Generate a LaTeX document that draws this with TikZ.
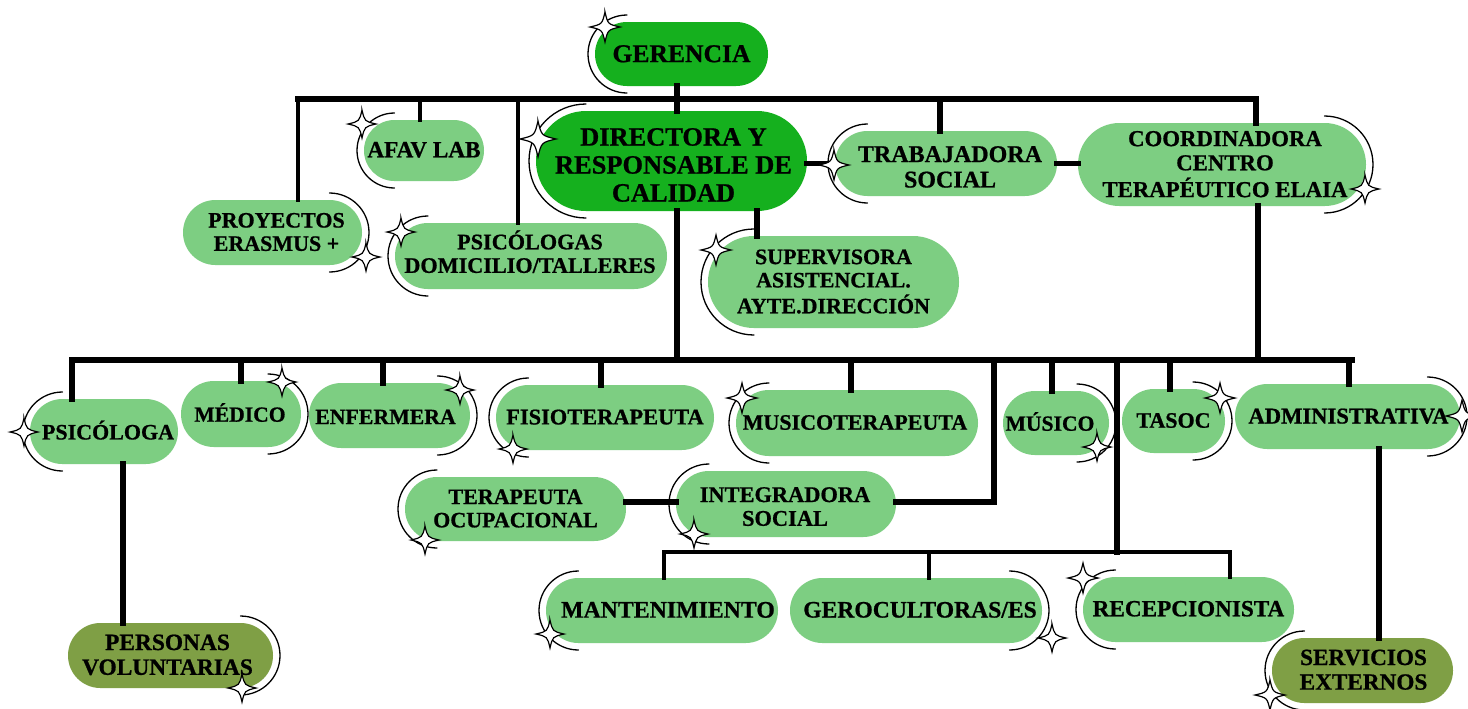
\documentclass[tikz,border=0pt]{standalone}
\usepackage{fontspec}
\setmainfont{Liberation Serif}[BoldFeatures={FakeBold=0.8}]
\usetikzlibrary{calc}
\definecolor{dark}{HTML}{15B01E}
\definecolor{light}{HTML}{7DCE82}
\definecolor{olive}{HTML}{7F9F45}
\tikzset{
  pillbase/.style={inner sep=0pt,outer sep=0pt,text=black,font=\bfseries},
  conn/.style={draw=black,line width=2.6pt,line cap=rect},
  thin conn/.style={draw=black,line width=2.1pt,line cap=rect},
  busline/.style={draw=black,line width=3pt,line cap=rect},
  arcline/.style={draw=black,line width=0.65pt,line cap=round},
  starline/.style={draw=black,fill=white,line width=0.6pt,line join=miter},
}
\newcommand\pill[9]{% name,l,t,r,b,fill,size,dx,dy in #1..#9; text follows
  \def\pname{#1}\def\pl{#2}\def\pt{#3}\def\pr{#4}\def\pb{#5}\def\pf{#6}\def\ps{#7}\def\pdx{#8}\def\pdy{#9}\pillnext}
\newcommand\pillnext[1]{%
  \pgfmathsetmacro\pcx{(\pl+\pr)/2}\pgfmathsetmacro\pcy{-(\pt+\pb)/2}%
  \pgfmathsetmacro\pw{(\pr-\pl)/2}\pgfmathsetmacro\ph{(\pb-\pt)/2}%
  \pgfmathsetmacro\prad{\ph/2-0.05}\pgfmathsetmacro\pleading{\ps*1.06}%
  \pgfmathsetmacro\pdrop{\pdy-0.34*\ps}%
  \node[pillbase,fill=\pf,minimum width=\pw pt,minimum height=\ph pt,rounded corners=\prad pt] (\pname) at (\pcx,\pcy)
   {\raisebox{\pdrop pt}[0pt][0pt]{\makebox[0pt][c]{\hspace*{\pdx pt}\fontsize{\ps}{\pleading}\selectfont\begin{tabular}[c]{@{}c@{}}#1\end{tabular}}}};}
\newcommand\arcL[1]{\draw[arcline] let \p1=(#1.north),\p2=(#1.south),\p3=(#1.west),\n1={(\y1-\y2)/2} in
  (\x3+\n1,\y1+3.5pt) arc[start angle=90,end angle=270,radius=\n1+3.5pt];}
\newcommand\arcR[1]{\draw[arcline] let \p1=(#1.north),\p2=(#1.south),\p3=(#1.east),\n1={(\y1-\y2)/2} in
  (\x3-\n1,\y1+3.5pt) arc[start angle=90,end angle=-90,radius=\n1+3.5pt];}
\newcommand\sparkle[3]{\draw[starline,shift={(#1,-#2)},scale=#3]
  (0,1) .. controls (.19,.19) .. (1,0) .. controls (.19,-.19) .. (0,-1)
  .. controls (-.19,-.19) .. (-1,0) .. controls (-.19,.19) .. cycle;}
\begin{document}
\begin{tikzpicture}[x=0.5pt,y=0.5pt]
\useasboundingbox (0,0) rectangle (1468,-708);
\fill[white] (0,0) rectangle (1468,-708);
% --- boxes
\pill{ger}{595}{22}{768}{86}{dark}{12.8}{0}{0}{GERENCIA}
\pill{dir}{536}{111}{807}{211}{dark}{13.2}{2}{-2}{DIRECTORA Y\\RESPONSABLE DE\\CALIDAD}
\pill{afav}{364}{120}{484}{181}{light}{11.6}{0}{0}{AFAV LAB}
\pill{proy}{183}{200}{362}{265}{light}{11}{4}{0}{PROYECTOS\\ERASMUS +}
\pill{psid}{395}{223}{667}{289}{light}{11.1}{-1}{1.5}{PSICÓLOGAS\\DOMICILIO/TALLERES}
\pill{trab}{835}{131}{1057}{196}{light}{12}{4}{-2}{TRABAJADORA\\SOCIAL}
\pill{coor}{1078}{123}{1366}{206}{light}{11.4}{3}{0}{COORDINADORA\\CENTRO\\TERAPÉUTICO ELAIA}
\pill{supe}{708}{236}{959}{328}{light}{11}{0}{0}{SUPERVISORA\\ASISTENCIAL.\\AYTE.DIRECCIÓN}
\pill{psic}{30}{399}{178}{464}{light}{11}{4}{0}{PSICÓLOGA}
\pill{medi}{181}{381}{301}{447}{light}{10.8}{-1}{0}{MÉDICO}
\pill{enfe}{309}{383}{470}{448}{light}{10.9}{-4}{-1}{ENFERMERA}
\pill{fisi}{496}{385}{714}{450}{light}{11.2}{0}{0}{FISIOTERAPEUTA}
\pill{muso}{736}{390}{978}{456}{light}{11}{-2}{0}{MUSICOTERAPEUTA}
\pill{musi}{1003}{391}{1109}{455}{light}{10.8}{-6}{0}{MÚSICO}
\pill{taso}{1122}{389}{1225}{453}{light}{11}{0}{0}{TASOC}
\pill{admi}{1235}{384}{1460}{449}{light}{11.3}{1}{0}{ADMINISTRATIVA}
\pill{tera}{405}{477}{626}{541}{light}{11}{0}{0}{TERAPEUTA\\OCUPACIONAL}
\pill{inte}{676}{471}{896}{537}{light}{11.2}{-1}{-1.5}{INTEGRADORA\\SOCIAL}
\pill{mant}{546}{578}{778}{643}{light}{11.9}{6}{0}{MANTENIMIENTO}
\pill{gero}{790}{578}{1042}{643}{light}{11.8}{4}{0}{GEROCULTORAS/ES}
\pill{rece}{1083}{577}{1294}{642}{light}{11.6}{0}{0}{RECEPCIONISTA}
\pill{pers}{68}{623}{273}{688}{olive}{11.7}{-3}{0}{PERSONAS\\VOLUNTARIAS}
\pill{serv}{1272}{638}{1453}{703}{olive}{11.6}{1}{0}{SERVICIOS\\EXTERNOS}
% --- junction points
\coordinate (busA) at (298,-99);
\coordinate (busB) at (1256,-99);
\coordinate (busAafav) at (420,-99);
\coordinate (busApsid) at (518,-99);
\coordinate (busAtrab) at (940,-99);
\coordinate (busAmain) at (677,-99);
\coordinate (busC) at (72,-360);
\coordinate (busD) at (1352,-360);
\coordinate (busCmain) at (677,-360);
\coordinate (busCcoor) at (1258,-360);
\coordinate (busCmedi) at (241,-360);
\coordinate (busCenfe) at (383,-360);
\coordinate (busCfisi) at (601,-360);
\coordinate (busCmuso) at (851,-360);
\coordinate (busCmusi) at (1052,-360);
\coordinate (busCtaso) at (1170,-360);
\coordinate (busCadmi) at (1349,-360);
\coordinate (busCinte) at (994,-360);
\coordinate (busCrece) at (1117,-360);
\coordinate (elbowInte) at (994,-502);
\coordinate (elbowRece) at (1117,-552);
\coordinate (busE) at (664,-552);
\coordinate (busF) at (1230,-552);
\coordinate (busEgero) at (929,-552);
\coordinate (supeTop) at (757,-211);
\coordinate (persTop) at (123,-464);
\coordinate (servTop) at (1379,-449);
% --- connectors
\draw[busline] (busA) -- (busB);
\draw[busline] (busC) -- (busD);
\draw[thin conn] (busE) -- (busF);
\draw[busline] (ger.south -| busAmain) -- (dir.north -| busAmain);
\draw[thin conn] (busA) -- (busA |- proy.north);
\draw[thin conn] (busAafav) -- (busAafav |- afav.north);
\draw[thin conn] (busApsid) -- (busApsid |- psid.north);
\draw[conn] (busAtrab) -- (busAtrab |- trab.north);
\draw[conn] (busB) -- (busB |- coor.north);
\draw[conn] (dir.east |- trab.west) -- (trab.west);
\draw[conn] (trab.east) -- (coor.west |- trab.east);
\draw[busline] (dir.south -| busCmain) -- (busCmain);
\draw[conn] (supeTop) -- (supeTop |- supe.north);
\draw[conn] (coor.south -| busCcoor) -- (busCcoor);
\draw[busline] (busC) -- (busC |- psic.north);
\draw[conn] (busCmedi) -- (busCmedi |- medi.north);
\draw[busline] (busCenfe) -- (busCenfe |- enfe.north);
\draw[conn] (busCfisi) -- (busCfisi |- fisi.north);
\draw[busline] (busCmuso) -- (busCmuso |- muso.north);
\draw[busline] (busCmusi) -- (busCmusi |- musi.north);
\draw[busline] (busCtaso) -- (busCtaso |- taso.north);
\draw[busline] (busCadmi) -- (busCadmi |- admi.north);
\draw[conn] (busCinte) -- (elbowInte) -- (inte.east |- elbowInte);
\draw[conn] (tera.east |- elbowInte) -- (inte.west |- elbowInte);
\draw[conn] (busCrece) -- (elbowRece);
\draw[thin conn] (busE) -- (busE |- mant.north);
\draw[thin conn] (busEgero) -- (busEgero |- gero.north);
\draw[thin conn] (busF) -- (busF |- rece.north);
\draw[conn] (persTop) -- (persTop |- pers.north);
\draw[conn] (servTop) -- (servTop |- serv.north);
% --- crescents
\arcL{ger}\arcL{dir}\arcL{afav}\arcR{proy}\arcL{psid}\arcL{trab}\arcR{coor}\arcL{supe}
\arcL{psic}\arcR{medi}\arcR{enfe}\arcL{fisi}\arcL{muso}\arcR{musi}\arcR{taso}\arcR{admi}
\arcL{tera}\arcL{inte}\arcL{mant}\arcR{gero}\arcL{rece}\arcR{pers}\arcL{serv}
% --- sparkles
\sparkle{605}{27}{15}
\sparkle{538}{139}{18}
\sparkle{362}{124}{14}
\sparkle{366}{257}{14}
\sparkle{401}{232}{14}
\sparkle{834}{165}{15}
\sparkle{1365}{189}{14}
\sparkle{716}{250}{15}
\sparkle{24}{432}{14}
\sparkle{282}{382}{14}
\sparkle{460}{390}{14}
\sparkle{513}{449}{14}
\sparkle{742}{398}{15}
\sparkle{1097}{447}{14}
\sparkle{1220}{398}{15}
\sparkle{1462}{416}{16}
\sparkle{425}{540}{14}
\sparkle{694}{534}{14}
\sparkle{550}{634}{14}
\sparkle{1052}{638}{14}
\sparkle{1083}{578}{15}
\sparkle{242}{688}{14}
\sparkle{1270}{695}{15}
\end{tikzpicture}
\end{document}
